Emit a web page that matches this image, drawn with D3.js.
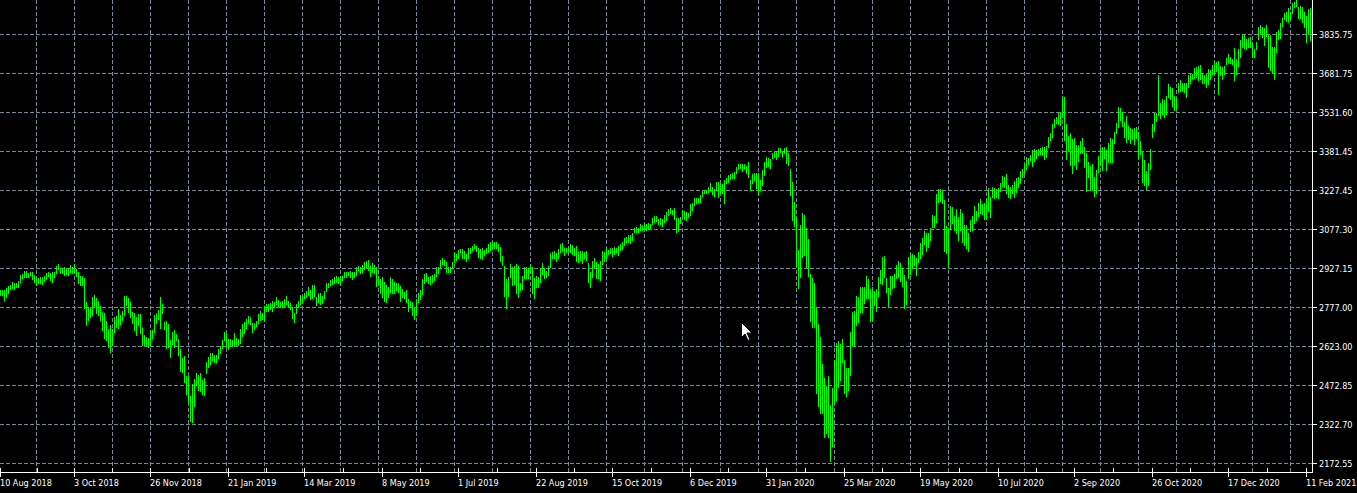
<!DOCTYPE html>
<html><head><meta charset="utf-8">
<script src="https://cdn.jsdelivr.net/npm/d3@7"></script>
<style>
html,body{margin:0;padding:0;background:#000;overflow:hidden}
svg{display:block}
text{font-family:"DejaVu Sans Condensed","DejaVu Sans",sans-serif;font-stretch:condensed;font-size:9px;fill:#fff}
</style></head><body>
<svg id="c" width="1357" height="493"></svg>
<script>
// Daily bar highs (S&P 500, oldest -> newest)
const highs=[
2843,2843,2843,2850,2859,2863,2873,2869,2872,2878,
2902,2905,2917,2917,2911,2913,2913,2902,2889,2889,
2892,2895,2898,2908,2913,2908,2913,2913,2936,2944,
2927,2927,2934,2927,2923,2940,2934,2944,2923,2914,
2898,2898,2889,2798,2779,2776,2818,2824,2811,2802,
2781,2759,2753,2724,2691,2708,2691,2740,2743,2768,
2746,2762,2820,2820,2811,2798,2758,2753,2740,2750,
2749,2695,2669,2660,2656,2688,2688,2746,2755,2766,
2815,2789,2721,2724,2712,2649,2682,2688,2671,2652,
2615,2578,2587,2510,2510,2432,2479,2500,2520,2514,
2520,2494,2503,2565,2585,2598,2598,2591,2591,2613,
2626,2649,2682,2675,2652,2652,2649,2675,2656,2652,
2691,2712,2720,2730,2742,2737,2714,2717,2724,2750,
2763,2755,2781,2789,2789,2794,2801,2798,2815,2805,
2798,2802,2807,2820,2801,2792,2776,2755,2789,2802,
2824,2824,2833,2841,2854,2843,2863,2863,2817,2833,
2830,2820,2841,2872,2872,2882,2885,2895,2898,2895,
2898,2898,2914,2914,2914,2918,2914,2914,2934,2936,
2934,2940,2953,2957,2960,2936,2949,2940,2934,2898,
2885,2892,2876,2863,2856,2895,2885,2876,2872,2872,
2859,2846,2837,2843,2807,2802,2798,2772,2807,2833,
2843,2885,2905,2911,2895,2898,2901,2905,2931,2934,
2960,2966,2960,2953,2934,2934,2951,2989,2982,2998,
3002,3002,2995,2982,3005,3007,3015,3020,3015,3007,
3002,3007,2998,3005,3020,3028,3033,3028,3031,3020,
3011,2976,2938,2886,2895,2943,2934,2938,2943,2938,
2869,2899,2934,2934,2930,2943,2934,2891,2899,2895,
2930,2947,2927,2917,2938,2985,2992,2995,2985,3002,
3020,3024,3007,3007,3011,3020,3018,3005,3015,2992,
2995,2995,2992,2995,2947,2914,2956,2966,2953,2943,
2956,2995,2992,3007,2998,3007,3007,3011,3005,3015,
3020,3031,3044,3050,3057,3057,3063,3085,3089,3082,
3098,3095,3098,3098,3102,3098,3124,3132,3132,3119,
3124,3119,3134,3147,3157,3160,3153,3163,3124,3121,
3125,3153,3151,3147,3143,3177,3182,3199,3199,3199,
3212,3228,3231,3231,3241,3257,3241,3233,3263,3263,
3254,3254,3270,3276,3289,3293,3298,3302,3319,3332,
3332,3332,3332,3324,3341,3270,3293,3298,3298,3298,
3270,3309,3341,3360,3354,3350,3376,3380,3383,3393,
3393,3380,3393,3399,3376,3311,3263,3186,3121,2998,
3095,3140,3134,3082,3040,2905,2889,2869,2776,2711,
2662,2556,2501,2471,2510,2397,2462,2572,2639,2647,
2634,2652,2572,2540,2540,2682,2759,2763,2820,2817,
2856,2854,2856,2898,2885,2846,2854,2841,2846,2892,
2921,2973,2975,2889,2850,2898,2898,2905,2940,2957,
2947,2930,2900,2880,2972,2985,2983,2979,2966,2992,
3024,3044,3073,3066,3063,3082,3134,3130,3215,3234,
3234,3231,3192,3091,3082,3169,3164,3130,3156,3128,
3156,3143,3095,3095,3063,3115,3130,3169,3151,3182,
3195,3177,3179,3199,3237,3205,3244,3237,3234,3237,
3259,3285,3280,3293,3250,3244,3250,3267,3276,3280,
3306,3311,3332,3360,3354,3367,3386,3389,3386,3389,
3393,3399,3396,3402,3435,3453,3487,3505,3515,3531,
3535,3595,3590,3487,3440,3453,3427,3431,3405,3405,
3422,3431,3399,3376,3341,3324,3332,3280,3309,3363,
3393,3399,3396,3386,3412,3431,3427,3457,3489,3554,
3548,3535,3496,3518,3479,3470,3466,3470,3474,3457,
3422,3380,3347,3306,3334,3389,3487,3528,3528,3677,
3570,3585,3580,3595,3642,3632,3625,3595,3590,3644,
3657,3647,3647,3647,3677,3681,3681,3703,3707,3712,
3716,3681,3677,3681,3699,3696,3716,3732,3729,3732,
3712,3709,3712,3741,3758,3745,3738,3780,3738,3776,
3813,3836,3832,3815,3819,3825,3802,3776,3806,3864,
3871,3862,3858,3871,3832,3832,3787,3787,3845,3851,
3880,3897,3919,3922,3935,3922,3955,3961,3968,3942,
3944,3939,3922,3906,3931,3935];
// Daily bar lows
const lows=[
2824,2824,2805,2818,2830,2846,2850,2846,2854,2856,
2876,2889,2895,2895,2895,2902,2885,2876,2863,2869,
2872,2865,2878,2885,2898,2882,2876,2895,2908,2925,
2911,2908,2902,2905,2902,2914,2911,2911,2898,2869,
2863,2863,2772,2708,2727,2740,2746,2779,2753,2746,
2727,2688,2656,2649,2624,2604,2630,2682,2701,2697,
2712,2727,2746,2785,2759,2740,2717,2688,2669,2708,
2675,2630,2630,2630,2624,2634,2656,2682,2717,2730,
2695,2753,2691,2620,2621,2582,2633,2624,2649,2591,
2531,2524,2488,2440,2404,2337,2333,2394,2475,2456,
2453,2440,2436,2523,2544,2556,2572,2565,2565,2578,
2598,2617,2649,2623,2613,2630,2626,2630,2630,2630,
2637,2665,2675,2695,2714,2712,2682,2691,2704,2717,
2727,2730,2724,2763,2763,2768,2763,2776,2789,2779,
2776,2776,2781,2789,2779,2768,2733,2721,2755,2776,
2789,2798,2811,2817,2824,2807,2811,2820,2785,2798,
2789,2794,2811,2841,2854,2863,2866,2872,2876,2872,
2867,2882,2895,2895,2901,2895,2885,2895,2901,2921,
2911,2914,2923,2934,2921,2898,2914,2908,2859,2863,
2833,2817,2802,2798,2815,2837,2830,2830,2843,2837,
2802,2817,2811,2798,2763,2776,2746,2730,2746,2798,
2807,2828,2872,2880,2872,2867,2876,2882,2898,2911,
2927,2943,2940,2914,2912,2912,2927,2953,2960,2969,
2989,2969,2966,2956,2966,2985,2998,3005,2995,2973,
2969,2963,2979,2985,2992,2998,3005,3007,3005,2995,
2956,2940,2821,2775,2821,2895,2863,2865,2830,2817,
2843,2847,2889,2891,2889,2914,2830,2811,2856,2856,
2876,2904,2889,2895,2901,2934,2966,2966,2956,2966,
2992,2995,2979,2989,2995,2992,2982,2979,2956,2953,
2960,2947,2969,2960,2873,2856,2895,2934,2889,2889,
2882,2943,2956,2969,2982,2985,2976,2982,2989,2979,
2998,3002,3018,3028,3031,3024,3037,3067,3069,3067,
3076,3076,3080,3076,3080,3082,3098,3108,3111,3098,
3098,3093,3106,3115,3134,3141,3137,3119,3069,3072,
3104,3128,3117,3115,3125,3134,3153,3173,3179,3186,
3186,3208,3218,3221,3224,3231,3215,3208,3231,3205,
3221,3221,3182,3257,3263,3272,3276,3276,3296,3311,
3315,3306,3315,3296,3280,3231,3259,3270,3237,3211,
3231,3250,3289,3321,3324,3315,3354,3358,3350,3363,
3380,3358,3373,3337,3328,3212,3115,3091,2936,2850,
2892,2972,2979,2934,2898,2724,2699,2701,2445,2394,
2365,2365,2272,2290,2272,2182,2238,2410,2417,2469,
2494,2565,2443,2432,2456,2514,2630,2626,2708,2720,
2759,2759,2792,2811,2811,2724,2724,2785,2763,2820,
2869,2867,2895,2837,2776,2828,2850,2856,2889,2892,
2880,2860,2775,2790,2890,2905,2927,2940,2900,2953,
2966,2983,3022,2996,3011,3037,3086,3089,3108,3186,
3190,3182,2996,2985,2934,3079,3104,3076,3066,3037,
3076,3031,3018,3005,2996,3073,3076,3104,3115,3130,
3143,3138,3117,3121,3151,3128,3205,3199,3203,3199,
3228,3246,3241,3221,3203,3199,3218,3205,3224,3241,
3257,3280,3298,3311,3332,3347,3324,3345,3354,3367,
3371,3367,3350,3360,3399,3425,3438,3474,3489,3487,
3483,3515,3425,3350,3384,3328,3298,3328,3311,3345,
3376,3373,3319,3228,3283,3231,3234,3208,3218,3302,
3328,3309,3354,3309,3341,3341,3341,3415,3453,3474,
3502,3479,3438,3418,3427,3412,3427,3409,3431,3354,
3371,3263,3250,3234,3250,3311,3435,3461,3500,3522,
3509,3526,3515,3526,3590,3582,3557,3541,3544,3612,
3616,3616,3612,3593,3629,3647,3664,3664,3670,3657,
3660,3645,3647,3629,3642,3660,3681,3690,3694,3603,
3677,3660,3681,3719,3722,3725,3719,3657,3681,3712,
3748,3784,3780,3776,3787,3787,3748,3748,3776,3815,
3838,3823,3793,3828,3709,3696,3690,3660,3767,3815,
3819,3867,3893,3887,3884,3893,3916,3942,3944,3897,
3897,3884,3864,3806,3841,3813];
// Price scale labels
const priceTicks=[3835.75,3681.75,3531.60,3381.45,3227.45,3077.30,2927.15,2777.00,2623.00,2472.85,2322.70,2172.55];
// Time scale labels and the bar index each one belongs to
const timeLabels=["10 Aug 2018","3 Oct 2018","26 Nov 2018","21 Jan 2019","14 Mar 2019","8 May 2019","1 Jul 2019","22 Aug 2019","15 Oct 2019","6 Dec 2019","31 Jan 2020","25 Mar 2020","19 May 2020","10 Jul 2020","2 Sep 2020","26 Oct 2020","17 Dec 2020","11 Feb 2021"];
const timeLabelBars=[0,37,75,114,152,191,229,268,306,345,383,422,460,499,537,576,614,653];

const n=Math.min(highs.length,lows.length);
const svg=d3.select("#c");
const plotR=1312, plotB=472;
const x=d3.scaleLinear().domain([0,655]).range([0,1310]);
const y=d3.scaleLinear().domain([2172.55,3835.75]).range([463,34]);
const gridCol="#778899";

svg.append("rect").attr("width",1357).attr("height",493).attr("fill","#000");
const clip=svg.append("defs").append("clipPath").attr("id","plot");
clip.append("rect").attr("x",0).attr("y",0).attr("width",plotR).attr("height",plotB);
const g=svg.append("g").attr("clip-path","url(#plot)").attr("shape-rendering","crispEdges");

// horizontal grid
priceTicks.forEach(v=>{
  const py=Math.floor(y(v))+0.5;
  g.append("line").attr("x1",0).attr("x2",plotR).attr("y1",py).attr("y2",py)
   .attr("stroke",gridCol).attr("stroke-width",1).attr("stroke-dasharray","4,2");
});
// vertical grid every 19 bars
d3.range(18,n,19).forEach(b=>{
  const px=Math.round(x(b))+0.5;
  g.append("line").attr("x1",px).attr("x2",px).attr("y1",0).attr("y2",plotB)
   .attr("stroke",gridCol).attr("stroke-width",1).attr("stroke-dasharray","4,2");
});
// bars
const idx=d3.range(n);
g.selectAll("rect.bar").data(idx).join("rect").attr("class","bar")
 .attr("x",i=>Math.round(x(i)))
 .attr("y",i=>Math.round(y(highs[i])))
 .attr("width",1)
 .attr("height",i=>Math.max(1,Math.round(y(lows[i]))-Math.round(y(highs[i]))+1))
 .attr("fill","#00ff00");

// axes frame
const ax=svg.append("g").attr("shape-rendering","crispEdges");
ax.append("line").attr("x1",plotR+0.5).attr("x2",plotR+0.5).attr("y1",0).attr("y2",plotB+1).attr("stroke","#fff");
ax.append("line").attr("x1",0).attr("x2",plotR+1).attr("y1",plotB+0.5).attr("y2",plotB+0.5).attr("stroke","#fff");
// price ticks/labels
priceTicks.forEach(v=>{
  const py=Math.floor(y(v))+0.5;
  ax.append("line").attr("x1",plotR+1).attr("x2",plotR+5).attr("y1",py).attr("y2",py).attr("stroke","#fff");
  svg.append("text").attr("x",1319).attr("y",py).attr("dy","0.36em").text(v.toFixed(2));
});
// time ticks/labels
timeLabelBars.forEach((b,k)=>{
  const px=Math.round(x(b))+0.5;
  ax.append("line").attr("x1",px).attr("x2",px).attr("y1",plotB-4).attr("y2",plotB+5).attr("stroke","#fff");
  svg.append("text").attr("x",Math.round(x(b))).attr("y",486).text(timeLabels[k]);
  if(k<timeLabelBars.length-1){
    const mx=Math.round(x((b+timeLabelBars[k+1])/2))+0.5;
    ax.append("line").attr("x1",mx).attr("x2",mx).attr("y1",plotB-4).attr("y2",plotB).attr("stroke","#fff");
  }
});
// mouse pointer seen in the screenshot
svg.append("path").attr("d","M741.5,322.5 v15 l3.5,-3.5 l3,6.5 l2,-1 l-3,-6.5 h5 z")
 .attr("fill","#fff").attr("stroke","#000").attr("stroke-width",1);
</script>
</body></html>
